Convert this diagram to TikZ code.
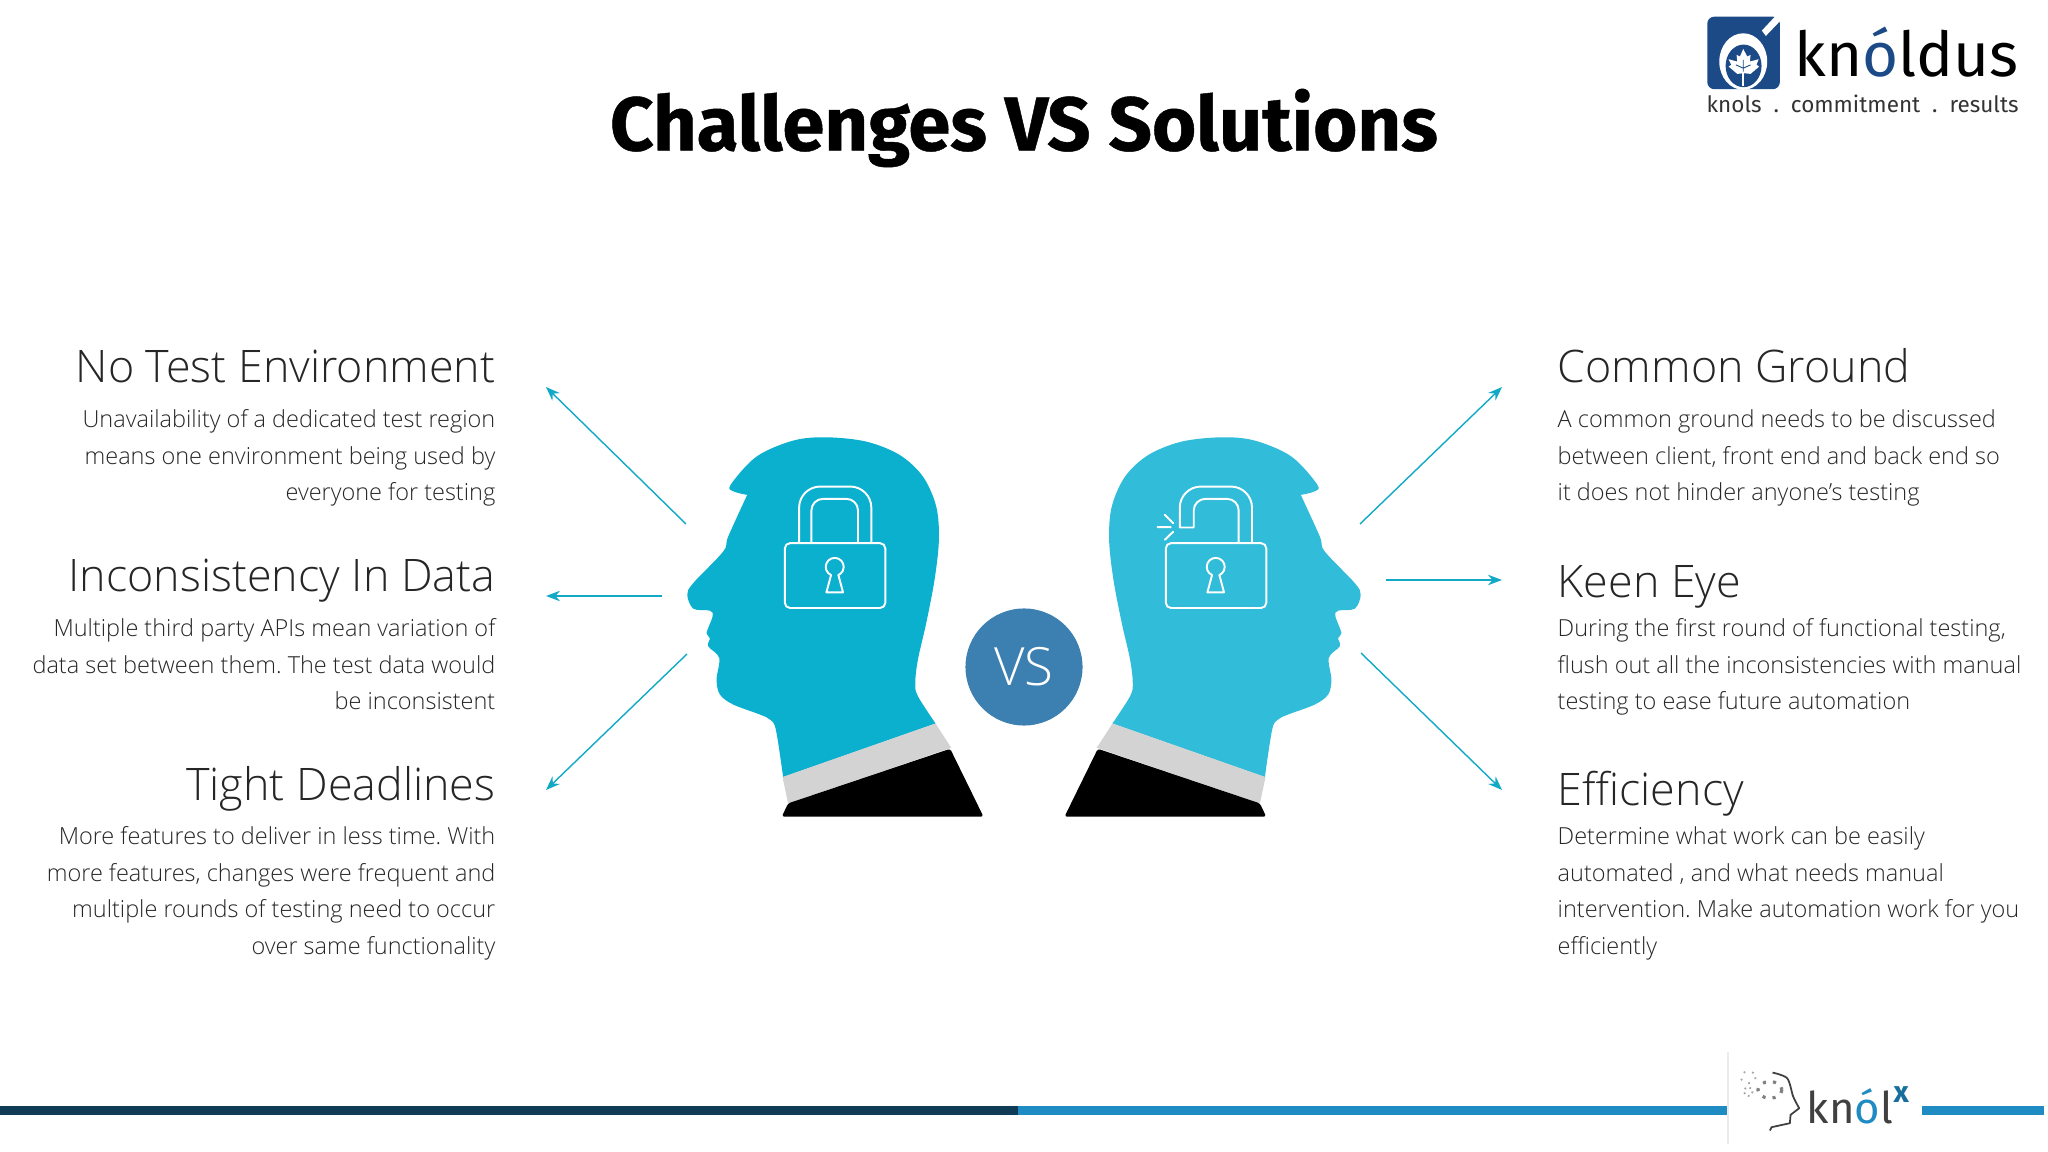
\documentclass[tikz,border=0pt]{standalone}
\usepackage{fontspec}
\setmainfont{Open Sans}
\newfontfamily\lightfont{Open Sans Light}
\newfontfamily\logofont{Fira Sans}
\newfontfamily\titlefont[BoldFeatures={FakeBold=0.6}]{Fira Sans}
\usetikzlibrary{positioning,arrows.meta}
\definecolor{headA}{HTML}{0BB0CF}
\definecolor{headB}{HTML}{31BCD9}
\definecolor{vsblue}{HTML}{3C7FB1}
\definecolor{collar}{HTML}{D3D3D3}
\definecolor{arrowc}{HTML}{12A9C6}
\definecolor{bardark}{HTML}{0F3B55}
\definecolor{barblue}{HTML}{1E8BC3}
\definecolor{logoblue}{HTML}{1B4A86}
\frenchspacing
\tikzset{
	headtext/.style={font=\lightfont\fontsize{12.75}{16}\selectfont, text=black!85, inner sep=0pt},
	bodytext/.style={font=\lightfont\fontsize{6.68}{10.4}\selectfont, text=black!85, inner sep=0pt},
	ray/.style={arrowc, line width=0.4pt, -{Stealth[length=4pt,width=3pt]}},
	lockline/.style={draw=white, line width=0.55pt, line join=round},
	zoomed/.style={x=0.003333cm, y=-0.003333cm},
}
\newcommand{\headshape}[1]{
	\fill[#1] plot[smooth, tension=.55] coordinates {(262,255) (222,245) (212,225) (290,140) (400,92) (500,82) (620,95) (720,135) (790,200) (830,290) (838,390) (825,510) (800,640) (775,750) (767,820) (775,860) (828,942)}
		-- (370,1103)
		-- plot[smooth, tension=.55] coordinates {(370,1103) (348,960) (330,930) (300,915) (220,885) (180,855) (170,810) (178,745) (145,710) (150,685) (140,670) (158,620) (150,603) (100,597) (82,555) (100,520) (190,425) (205,380) (262,255)} -- cycle;
	\fill[collar] (828,942) -- (875,1015) -- (385,1182) -- (368,1103) -- cycle;
	\fill[black, rounded corners=0.7pt] (872,1018) -- (972,1222) -- (366,1222) -- (385,1182) -- cycle;
}
\newcommand{\keyhole}[1]{
	\draw[lockline] (#1,472) ++(-11,24) arc[start angle=114, end angle=426, radius=27] -- ++(14,52) -- ++(-50,0) -- cycle;
}
\begin{document}
\begin{tikzpicture}[x=0.01cm, y=-0.01cm]
	\useasboundingbox (0,0) rectangle (2048,1152);

	\node[name=title, font=\titlefont\bfseries\fontsize{21.6}{26}\selectfont, inner sep=0pt] at (1024,128) {Challenges VS Solutions};

	% left column
	\node[name=noenv, headtext, anchor=base east] at (496,383) {No Test Environment};
	\node[name=noenvtext, bodytext, anchor=north east, align=right] at (496,409) {Unavailability of a dedicated test region\\means one environment being used by\\everyone for testing};
	\node[name=incons, headtext, anchor=base east] at (496,591) {Inconsistency In Data};
	\node[name=inconstext, bodytext, anchor=north east, align=right] at (496,618) {Multiple third party APIs mean variation of\\data set between them. The test data would\\be inconsistent};
	\node[name=tight, headtext, anchor=base east] at (496,800) {Tight Deadlines};
	\node[name=tighttext, bodytext, anchor=north east, align=right] at (496,826) {More features to deliver in less time. With\\more features, changes were frequent and\\multiple rounds of testing need to occur\\over same functionality};

	% right column
	\node[name=common, headtext, anchor=base west] at (1557,383) {Common Ground};
	\node[name=commontext, bodytext, anchor=north west, align=left] at (1557,409) {A common ground needs to be discussed\\between client, front end and back end so\\it does not hinder anyone’s testing};
	\node[name=keen, headtext, anchor=base west] at (1557,597) {Keen Eye};
	\node[name=keentext, bodytext, anchor=north west, align=left] at (1557,618) {During the first round of functional testing,\\flush out all the inconsistencies with manual\\testing to ease future automation};
	\node[name=effic, headtext, anchor=base west] at (1557,805) {Efficiency};
	\node[name=effictext, bodytext, anchor=north west, align=left] at (1557,826) {Determine what work can be easily\\automated , and what needs manual\\intervention. Make automation work for you\\efficiently};

	% heads
	\begin{scope}[shift={(660,410)}, zoomed]
		\headshape{headA}
		\draw[lockline, rounded corners=1.5pt] (375,400) rectangle (677,595);
		\draw[lockline, rounded corners=6pt] (418,400) -- (418,230) -- (635,230) -- (635,400);
		\draw[lockline, rounded corners=3.3pt] (455,400) -- (455,267) -- (595,267) -- (595,400);
		\keyhole{525}
	\end{scope}
	\begin{scope}[shift={(1388,410)}, xscale=-1, zoomed]
		\headshape{headB}
	\end{scope}
	\begin{scope}[shift={(1040,410)}, zoomed]
		\draw[lockline, rounded corners=1.5pt] (378,400) rectangle (680,595);
		\draw[lockline] [rounded corners=3.3pt] (597,400) -- (597,267) -- (462,267) [sharp corners] -- (462,353) -- (420,353) [rounded corners=6pt] -- (420,230) -- (637,230) -- (637,400);
		\draw[lockline, line cap=round] (375,315) -- (400,340) (353,352) -- (393,352) (375,390) -- (400,366);
		\keyhole{528}
	\end{scope}

	\node[name=vs, circle, fill=vsblue, text=white, minimum size=1.17cm, inner sep=0pt, font=\lightfont\fontsize{15}{18}\selectfont] at (1024,667) {VS};

	% arrows
	\coordinate (la) at (686,524);
	\coordinate (lb) at (662,596);
	\coordinate (lc) at (687,654);
	\coordinate (ra) at (1360,524);
	\coordinate (rb) at (1386,580);
	\coordinate (rc) at (1361,653);
	\coordinate (lA) at (546,387);
	\coordinate (lB) at (546,596);
	\coordinate (lC) at (546,790);
	\coordinate (rA) at (1502,387);
	\coordinate (rB) at (1502,580);
	\coordinate (rC) at (1502,790);
	\draw[ray] (la) -- (lA);
	\draw[ray] (lb) -- (lB);
	\draw[ray] (lc) -- (lC);
	\draw[ray] (ra) -- (rA);
	\draw[ray] (rb) -- (rB);
	\draw[ray] (rc) -- (rC);

	% knoldus logo
	\begin{scope}[shift={(1680,0)}, zoomed]
		\fill[logoblue, rounded corners=2pt] (82,50) rectangle (300,268);
		\fill[white] (190,185) ellipse[x radius=72, y radius=85];
		\fill[logoblue] (191,198) ellipse[x radius=54, y radius=64];
		\fill[white] (300,62) -- (300,64) -- (258,108) -- (246,92) -- (285,50) -- (300,50) -- cycle;
		\fill[white] (190,147) -- (202,170) -- (212,165) -- (210,185) -- (236,178) -- (230,195) -- (238,200) -- (212,222) -- (192,220) -- (172,222) -- (146,200) -- (154,195) -- (146,178) -- (172,185) -- (170,165) -- (180,170) -- cycle;
		\draw[white, line width=0.6pt] (190,215) -- (190,258);
		\draw[logoblue, line width=0.25pt] (190,215) -- (190,180) (190,205) -- (168,195) (190,205) -- (212,195);
	\end{scope}
	\node[name=knoldus, inner sep=0pt, anchor=base west, font=\logofont\fontsize{17.6}{22}\selectfont] at (1794,77) {kn\textcolor{logoblue}{ó}ldus};
	\node[name=tagline, inner sep=0pt, anchor=base west, text=black!80, font=\logofont\fontsize{6.4}{9}\selectfont] at (1706,113) {knols\ \ .\ \ commitment\ \ .\ \ results};

	% bottom bar
	\fill[bardark] (0,1106) rectangle (1018,1115);
	\fill[barblue] (1018,1106) rectangle (1728,1115);
	\fill[barblue] (1922,1106) rectangle (2044,1115);
	\draw[black!8, line width=0.3pt] (1728,1052) -- (1728,1144);

	% knolx logo
	\begin{scope}[shift={(1700,1040)}, zoomed]
		\draw[black!75, line width=0.5pt, line join=round] plot[smooth, tension=.5] coordinates {(218,98) (262,115) (280,170) (298,205)} -- (272,225) -- (270,250) -- (215,262) -- (210,272);
		\draw[black!35, dotted, line width=0.5pt] (145,112) ellipse[x radius=22, y radius=18];
		\draw[black!35, densely dotted, line width=0.5pt] (145,155) circle[radius=13];
		\draw[black!50, dotted, line width=0.9pt] (210,150) ellipse[x radius=36, y radius=25];
	\end{scope}
	\node[name=knol, inner sep=0pt, anchor=base west, text=black!75, font=\logofont\fontsize{12.4}{14}\selectfont] at (1806,1123) {kn\textcolor{barblue}{ó}l};
	\node[name=knolsup, inner sep=0pt, anchor=base west, text=barblue!80!black, font=\logofont\bfseries\fontsize{8.5}{11}\selectfont] at (1893,1102) {x};
\end{tikzpicture}
\end{document}
